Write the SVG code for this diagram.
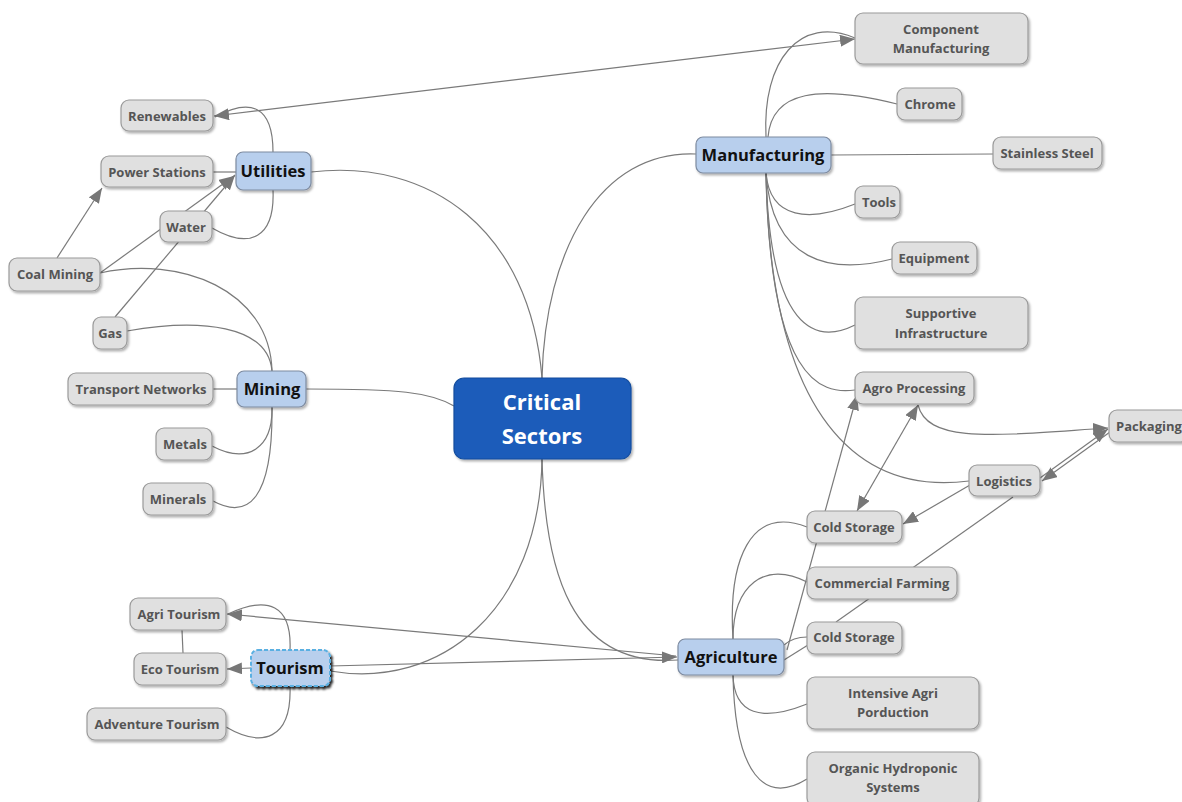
<svg xmlns="http://www.w3.org/2000/svg" width="1182" height="802" viewBox="0 0 1182 802">
<style>
.leaf rect{fill:#e0e0e0;stroke:#9a9a9a;stroke-width:1.2;filter:url(#sh)}
.leaf text{font-family:"Open Sans","Noto Sans",sans-serif;font-weight:bold;font-size:13px;fill:#555;text-anchor:middle}
.cat rect{fill:#b8cfed;stroke:#7d8ba0;stroke-width:1.2;filter:url(#sh)}
.cat text{font-family:"Open Sans","Noto Sans",sans-serif;font-weight:bold;font-size:16.5px;fill:#111;text-anchor:middle}
.center rect{fill:#1a5bba;stroke:#134d9e;stroke-width:1.2;filter:url(#sh)}
.center text{font-family:"Open Sans","Noto Sans",sans-serif;font-weight:bold;font-size:22px;fill:#fff;text-anchor:middle}
#connectors path,#connectors line{fill:none;stroke:#7a7a7a;stroke-width:1.2}
</style>
<defs>
<filter id="sh" x="-20%" y="-20%" width="140%" height="150%"><feDropShadow dx="1.5" dy="2" stdDeviation="1" flood-color="#000" flood-opacity="0.3"/></filter>
<filter id="sh2" x="-20%" y="-20%" width="140%" height="150%"><feDropShadow dx="2" dy="2.5" stdDeviation="0.8" flood-color="#000" flood-opacity="0.85"/></filter>
<marker id="ar" markerUnits="userSpaceOnUse" markerWidth="16" markerHeight="12" refX="15" refY="6" orient="auto-start-reverse"><path d="M0,0 L15,6 L0,12 Z" fill="#777"/></marker>
</defs>
<rect width="1182" height="802" fill="#fff"/>
<g id="connectors">
<path d="M311,172 C430,158 530,230 542,378"/>
<path d="M454,406 C430,392 400,389 306,389"/>
<path d="M542,378 C545,250 600,150 696,154"/>
<path d="M542,459 C545,570 570,668 678,660"/>
<path d="M542,459 C540,610 440,690 330,671"/>
<path d="M273,152 C273,105 250,98 215,117"/>
<line x1="213" y1="172" x2="236" y2="172"/>
<path d="M273,190 C275,238 250,250 212,228"/>
<line x1="100" y1="273" x2="234" y2="176" marker-end="url(#ar)"/>
<line x1="115" y1="317" x2="235" y2="175" marker-end="url(#ar)"/>
<line x1="57" y1="258" x2="102" y2="188" marker-end="url(#ar)"/>
<line x1="855" y1="39" x2="214" y2="116" marker-start="url(#ar)" marker-end="url(#ar)"/>
<path d="M272,371 C268,325 200,318 127,331"/>
<path d="M272,371 C270,290 180,255 100,273"/>
<line x1="213" y1="389" x2="237" y2="389"/>
<path d="M272,407 C273,448 248,465 212,446"/>
<path d="M272,407 C273,500 248,520 213,501"/>
<line x1="330" y1="666" x2="677" y2="657" marker-end="url(#ar)"/>
<line x1="676" y1="656" x2="227" y2="614" marker-end="url(#ar)"/>
<line x1="251" y1="668" x2="227" y2="669" marker-end="url(#ar)"/>
<path d="M290,650 C292,605 268,595 228,614"/>
<path d="M290,686 C292,740 262,748 226,727"/>
<line x1="182" y1="630" x2="183" y2="653"/>
<path d="M766,137 C762,60 800,15 855,38"/>
<path d="M768,137 C772,90 820,85 897,104"/>
<line x1="831" y1="155" x2="993" y2="154"/>
<path d="M766,173 C770,220 810,222 855,204"/>
<path d="M766,173 C772,262 830,275 892,259"/>
<path d="M766,173 C770,330 815,345 855,325"/>
<path d="M766,173 C770,380 820,395 855,390"/>
<path d="M766,173 C770,420 860,495 969,481"/>
<path d="M733,639 C728,560 750,505 807,527"/>
<path d="M733,639 C733,585 765,560 807,582"/>
<path d="M784,645 C792,638 800,637 807,637"/>
<line x1="784" y1="660" x2="808" y2="645"/>
<line x1="787" y1="650" x2="857" y2="395" marker-end="url(#ar)"/>
<line x1="918" y1="405" x2="857" y2="511" marker-start="url(#ar)" marker-end="url(#ar)"/>
<line x1="970" y1="485" x2="903" y2="524" marker-end="url(#ar)"/>
<path d="M918,405 C928,445 1000,435 1108,428" marker-end="url(#ar)"/>
<line x1="1040" y1="478" x2="1108" y2="429" marker-end="url(#ar)"/>
<line x1="1110" y1="432" x2="1042" y2="481" marker-end="url(#ar)"/>
<line x1="1013" y1="497" x2="836" y2="622"/>
<path d="M733,675 C734,715 762,722 807,704"/>
<path d="M733,675 C735,775 765,805 807,779"/>
</g>
<g id="n-center" class="center"><rect x="454" y="378" width="177" height="81" rx="10"/><text x="542" y="410">Critical</text><text x="542" y="444">Sectors</text></g>
<g id="n-utilities" class="cat"><rect x="236" y="152" width="75" height="38" rx="7"/><text x="273" y="177">Utilities</text></g>
<g id="n-mining" class="cat"><rect x="237" y="371" width="69" height="36" rx="7"/><text x="272" y="395">Mining</text></g>
<g id="n-manufacturing" class="cat"><rect x="696" y="137" width="135" height="36" rx="7"/><text x="763" y="161">Manufacturing</text></g>
<g id="n-agriculture" class="cat"><rect x="678" y="639" width="106" height="36" rx="7"/><text x="731" y="663">Agriculture</text></g>
<g id="n-tourism" class="cat"><rect x="251" y="650" width="79" height="36" rx="7" style="filter:url(#sh2);stroke:#5ab0e2;stroke-width:2;stroke-dasharray:4 2"/><text x="290" y="674">Tourism</text></g>
<g id="n-renewables" class="leaf"><rect x="121" y="100" width="92" height="31" rx="8"/><text x="167" y="121">Renewables</text></g>
<g id="n-power" class="leaf"><rect x="101" y="156" width="112" height="31" rx="8"/><text x="157" y="177">Power Stations</text></g>
<g id="n-water" class="leaf"><rect x="160" y="211" width="52" height="31" rx="8"/><text x="186" y="232">Water</text></g>
<g id="n-coal" class="leaf"><rect x="9" y="258" width="91" height="33" rx="8"/><text x="55" y="279">Coal Mining</text></g>
<g id="n-gas" class="leaf"><rect x="93" y="317" width="34" height="32" rx="8"/><text x="110" y="338">Gas</text></g>
<g id="n-transport" class="leaf"><rect x="68" y="373" width="145" height="32" rx="8"/><text x="141" y="394">Transport Networks</text></g>
<g id="n-metals" class="leaf"><rect x="156" y="428" width="56" height="32" rx="8"/><text x="185" y="449">Metals</text></g>
<g id="n-minerals" class="leaf"><rect x="143" y="483" width="70" height="32" rx="8"/><text x="178" y="504">Minerals</text></g>
<g id="n-agritourism" class="leaf"><rect x="130" y="598" width="96" height="32" rx="8"/><text x="179" y="619">Agri Tourism</text></g>
<g id="n-ecotourism" class="leaf"><rect x="134" y="653" width="92" height="32" rx="8"/><text x="180" y="674">Eco Tourism</text></g>
<g id="n-adventure" class="leaf"><rect x="87" y="708" width="139" height="32" rx="8"/><text x="157" y="729">Adventure Tourism</text></g>
<g id="n-component" class="leaf"><rect x="855" y="13" width="173" height="51" rx="8"/><text x="941" y="34">Component</text><text x="941" y="53">Manufacturing</text></g>
<g id="n-chrome" class="leaf"><rect x="897" y="88" width="65" height="32" rx="8"/><text x="930" y="109">Chrome</text></g>
<g id="n-stainless" class="leaf"><rect x="993" y="137" width="109" height="32" rx="8"/><text x="1047" y="158">Stainless Steel</text></g>
<g id="n-tools" class="leaf"><rect x="855" y="186" width="45" height="32" rx="8"/><text x="879" y="207">Tools</text></g>
<g id="n-equipment" class="leaf"><rect x="892" y="242" width="85" height="32" rx="8"/><text x="934" y="263">Equipment</text></g>
<g id="n-supportive" class="leaf"><rect x="855" y="297" width="173" height="52" rx="8"/><text x="941" y="318">Supportive</text><text x="941" y="338">Infrastructure</text></g>
<g id="n-agro" class="leaf"><rect x="855" y="372" width="119" height="32" rx="8"/><text x="914" y="393">Agro Processing</text></g>
<g id="n-packaging" class="leaf"><rect x="1109" y="410" width="80" height="32" rx="8"/><text x="1149" y="431">Packaging</text></g>
<g id="n-logistics" class="leaf"><rect x="969" y="465" width="71" height="31" rx="8"/><text x="1004" y="486">Logistics</text></g>
<g id="n-cold1" class="leaf"><rect x="807" y="511" width="95" height="32" rx="8"/><text x="854" y="532">Cold Storage</text></g>
<g id="n-commercial" class="leaf"><rect x="807" y="567" width="150" height="32" rx="8"/><text x="882" y="588">Commercial Farming</text></g>
<g id="n-cold2" class="leaf"><rect x="807" y="622" width="95" height="32" rx="8"/><text x="854" y="642">Cold Storage</text></g>
<g id="n-intensive" class="leaf"><rect x="807" y="677" width="172" height="52" rx="8"/><text x="893" y="698">Intensive Agri</text><text x="893" y="717">Porduction</text></g>
<g id="n-organic" class="leaf"><rect x="807" y="752" width="172" height="54" rx="8"/><text x="893" y="773">Organic Hydroponic</text><text x="893" y="792">Systems</text></g>
</svg>
